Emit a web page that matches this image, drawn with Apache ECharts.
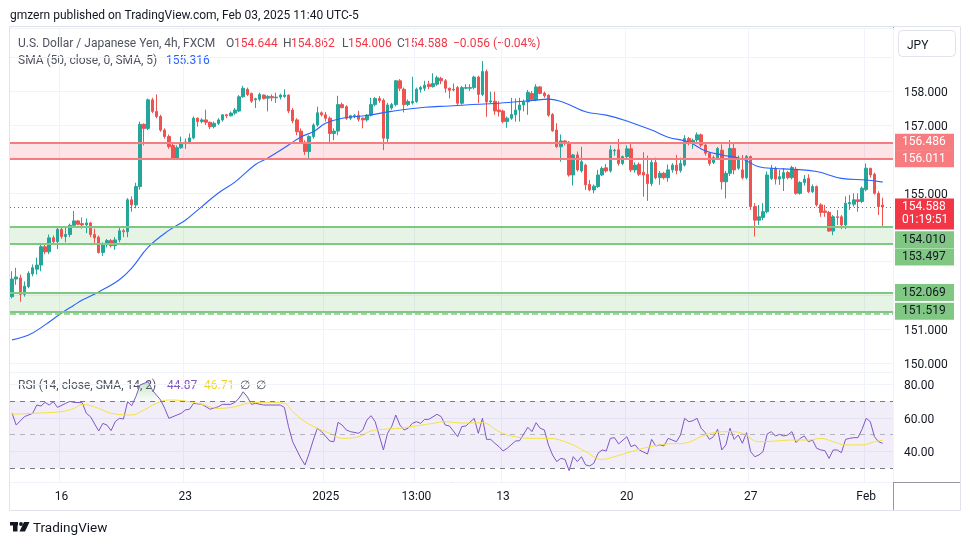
<!DOCTYPE html>
<html>
<head>
<meta charset="utf-8">
<script src="https://cdn.jsdelivr.net/npm/echarts@6/dist/echarts.min.js"></script>
<style>
  html, body { margin: 0; padding: 0; background: #fff; }
  #chart { width: 970px; height: 545px; }
</style>
</head>
<body>
<div id="chart"></div>
<script>
// USDJPY 4h candles (oldest first)
const opens = [
  151.95,152.47,152.5,152.02,152.25,152.62,152.76,152.88,153.42,153.27,
  153.68,153.57,153.93,153.72,153.78,154.05,154.18,154.1,154.06,154.12,
  153.78,153.7,153.25,153.48,153.6,153.45,153.62,153.89,153.86,154.8,
  154.65,155.19,157.02,156.9,157.74,157.4,157.25,156.85,156.66,156.4,
  156.0,156.33,156.45,156.5,156.62,157.2,157.1,157.15,157.08,156.95,
  157.05,157.15,157.3,157.27,157.35,157.41,157.83,158.05,157.93,157.74,
  157.76,157.88,157.79,157.84,157.8,157.82,157.84,157.88,157.44,157.15,
  156.82,156.49,156.22,156.66,157.0,157.36,157.3,157.2,156.75,156.82,
  157.6,157.54,157.2,157.25,157.28,157.2,157.15,157.29,157.6,157.78,
  157.73,156.6,157.5,157.6,158.3,158.05,157.6,157.65,157.69,158.05,
  158.08,158.2,158.13,158.2,158.37,158.3,158.08,158.03,158.1,157.64,
  158.08,158.08,158.1,158.41,157.9,158.57,157.68,157.7,157.44,157.41,
  157.1,157.2,157.3,157.44,157.59,157.68,157.93,157.74,158.12,157.94,
  157.88,157.31,156.85,156.36,156.53,156.49,155.53,156.12,155.65,155.82,
  155.25,155.09,155.19,155.53,155.74,155.65,156.24,156.27,155.87,156.07,
  156.3,155.68,155.84,155.61,155.55,155.28,155.9,155.45,155.58,155.45,
  155.68,155.82,155.66,155.82,156.6,156.46,156.56,156.71,156.41,156.17,
  155.9,156.04,156.26,155.33,155.58,156.31,155.73,155.68,155.45,156.07,
  154.6,154.2,154.28,154.45,155.43,155.73,155.41,155.43,155.6,155.45,
  155.7,154.99,155.31,155.43,155.04,155.19,154.65,154.47,154.43,153.88,
  154.3,154.3,154.06,154.68,154.67,154.8,154.75,155.1,155.73,155.55,
  154.99,154.644
];
const closes = [
  152.47,152.53,152.02,152.26,152.64,152.8,152.88,153.42,153.27,153.68,
  153.57,153.93,153.72,153.78,154.05,154.18,154.08,154.06,154.12,153.78,
  153.68,153.25,153.48,153.6,153.45,153.62,153.89,153.86,154.8,154.65,
  155.19,157.02,156.9,157.74,157.4,157.25,156.85,156.66,156.36,156.0,
  156.33,156.45,156.5,156.62,157.2,157.1,157.15,157.08,156.95,157.05,
  157.15,157.3,157.27,157.35,157.44,157.83,158.08,157.9,157.7,157.77,
  157.9,157.78,157.84,157.8,157.82,157.88,157.88,157.41,157.12,156.8,
  156.49,156.22,156.66,157.0,157.36,157.3,157.2,156.75,156.82,157.6,
  157.51,157.2,157.27,157.28,157.17,157.15,157.29,157.6,157.78,157.72,
  156.61,157.59,157.6,158.3,158.08,157.6,157.69,157.69,158.05,158.1,
  158.17,158.13,158.22,158.39,158.3,158.08,158.02,158.05,157.64,158.1,
  158.1,158.1,158.41,157.9,158.57,157.68,157.71,157.41,157.39,157.1,
  157.2,157.31,157.44,157.59,157.68,157.96,157.74,158.12,157.93,157.86,
  157.29,156.83,156.36,156.53,156.46,155.53,156.12,155.68,155.92,155.24,
  155.09,155.2,155.53,155.72,155.65,156.27,156.26,155.87,156.07,156.3,
  155.68,155.82,155.55,155.53,155.28,155.9,155.45,155.58,155.45,155.68,
  155.82,155.66,155.87,156.6,156.46,156.55,156.71,156.41,156.17,155.87,
  156.04,156.31,155.33,155.58,156.31,155.68,155.97,155.45,156.07,154.6,
  154.2,154.3,154.45,155.53,155.73,155.41,155.48,155.6,155.45,155.75,
  154.99,155.31,155.41,155.04,155.19,154.65,154.43,154.43,153.88,154.3,
  154.28,154.06,154.7,154.72,154.8,154.75,155.14,155.73,155.53,154.99,
  154.6,154.588
];
const lows = [
  151.9,152.3,151.8,151.95,152.2,152.55,152.6,152.7,153.2,153.2,
  153.5,153.35,153.65,153.55,153.7,154.0,154.05,153.95,153.82,153.7,
  153.53,153.22,153.15,153.4,153.4,153.33,153.55,153.7,153.7,154.45,
  154.55,155.1,156.4,156.85,157.35,157.2,156.8,156.6,156.3,155.97,
  155.98,156.3,156.3,156.45,156.58,156.95,157.05,157.0,156.88,156.9,
  157.0,157.1,157.2,157.25,157.3,157.38,157.8,157.85,157.65,157.5,
  157.7,157.75,157.4,157.7,157.65,157.75,157.8,157.35,157.05,156.7,
  156.45,156.12,156.02,156.6,156.95,157.25,157.1,156.45,156.55,156.7,
  157.49,157.15,157.15,157.2,157.1,156.9,157.1,157.25,157.55,157.65,
  156.26,156.49,157.45,157.55,158.0,157.37,157.55,157.6,157.65,157.95,
  158.0,158.05,158.1,158.15,158.2,157.95,157.78,157.99,157.59,157.6,
  158.05,158.0,158.05,157.64,157.85,157.24,157.64,157.3,157.25,157.05,
  156.92,157.15,157.1,157.1,157.4,157.3,157.7,157.7,157.9,157.8,
  157.24,156.8,156.33,155.92,156.4,155.48,155.22,155.63,155.6,155.09,
  155.05,154.99,155.15,155.5,155.6,155.6,156.1,155.8,155.82,156.0,
  155.62,155.6,155.5,154.89,154.77,155.2,155.4,155.24,155.4,155.33,
  155.6,155.55,155.6,155.78,156.4,156.3,156.5,156.35,156.1,155.8,
  155.85,156.0,155.1,154.84,155.5,155.55,155.68,155.4,155.4,154.5,
  153.72,154.06,154.2,154.4,155.38,155.25,155.24,155.06,155.4,155.4,
  154.95,154.95,155.22,155.0,155.0,154.6,154.3,154.3,153.86,153.76,
  154.06,153.94,153.94,154.5,154.6,154.45,154.7,155.05,155.45,154.95,
  154.35,154.006
];
const highs = [
  152.7,152.8,152.6,152.4,152.7,152.9,153.1,153.5,153.5,153.78,
  153.75,154.0,154.0,154.02,154.1,154.47,154.2,154.28,154.25,154.15,
  153.95,153.75,153.55,153.65,153.65,153.7,154.0,153.95,154.85,154.9,
  155.3,157.1,157.05,157.78,157.8,157.9,157.3,156.9,156.72,156.45,
  156.4,156.66,156.6,156.75,157.25,157.22,157.2,157.45,157.1,157.1,
  157.2,157.32,157.33,157.4,157.5,157.88,158.15,158.1,157.95,157.8,
  157.95,157.9,157.88,157.9,157.95,157.92,158.05,157.9,157.5,157.2,
  156.9,156.55,156.7,157.05,157.54,157.4,157.38,157.25,156.9,157.86,
  157.66,157.58,157.3,157.32,157.42,157.22,157.32,157.8,157.82,157.85,
  157.78,157.65,157.65,158.32,158.35,158.1,157.75,158.42,158.1,158.15,
  158.3,158.3,158.52,158.45,158.42,158.35,158.1,158.22,158.15,158.15,
  158.2,158.2,158.45,158.45,158.88,158.63,157.98,157.98,157.7,157.45,
  157.25,157.8,157.78,157.8,157.75,158.03,158.0,158.2,158.15,157.98,
  157.9,157.35,157.05,156.72,156.56,156.53,156.15,156.22,156.36,155.86,
  155.38,155.25,155.68,155.78,155.85,156.4,156.3,156.59,156.1,156.4,
  156.49,155.9,155.9,156.2,156.1,156.0,156.04,155.65,155.62,155.84,
  155.88,156.12,156.04,156.7,156.65,156.6,156.78,156.75,156.45,156.2,
  156.1,156.35,156.43,155.65,156.56,156.46,156.1,156.12,156.12,156.1,
  154.7,154.65,154.7,155.63,155.82,155.78,155.68,155.73,155.65,155.8,
  155.77,155.35,155.53,155.55,155.25,155.22,154.7,154.65,154.47,154.35,
  154.5,154.35,154.9,154.94,154.99,154.99,155.19,155.87,155.73,155.6,
  155.05,154.862
];

// SMA(50) overlay, read at [candle index, value]
const smaPoints = [
  [0,150.68],[4,150.82],[8,151.12],[12,151.47],[15,151.7],[17,151.85],[21,152.09],
  [26,152.45],[29,152.79],[33,153.41],[38,153.9],[42,154.2],[46,154.6],[50,155.0],
  [54,155.32],[59,155.84],[62,156.03],[67,156.41],[70,156.65],[73,156.8],[76,157.05],
  [80,157.2],[86,157.28],[92,157.4],[100,157.52],[106,157.56],[110,157.59],[118,157.64],
  [126,157.72],[130,157.76],[134,157.65],[139,157.39],[144,157.29],[149,157.12],
  [155,156.85],[159,156.64],[164,156.5],[168,156.24],[172,156.12],[177,156.0],
  [181,155.77],[185,155.72],[189,155.7],[195,155.63],[201,155.43],[207,155.38],[211,155.32]
];

// RSI(14) and its SMA(14), read at [candle index, value]
const rsiPoints = [
  [0,62.7],[1,55.7],[3,60.7],[5,62.7],[6,67.6],[7,67.0],[8,69.2],[9,67.6],[10,69.6],[11,66.2],
  [13,68.6],[14,69.8],[15,69.2],[17,69.0],[18,62.7],[19,60.7],[21,52.2],[22,56.7],[23,55.7],
  [24,52.4],[25,57.7],[26,59.7],[27,59.3],[28,69.6],[29,67.2],[30,72.6],[31,79.5],[33,81.5],
  [34,76.5],[36,70.6],[37,65.6],[38,59.7],[40,61.7],[41,62.7],[42,64.7],[43,65.1],[44,68.6],
  [46,68.0],[47,66.6],[48,65.1],[50,66.6],[51,68.0],[53,68.0],[54,69.2],[55,71.6],[56,75.5],
  [57,72.6],[58,68.0],[59,68.6],[61,67.6],[63,67.6],[65,67.6],[66,66.2],[67,54.8],[68,45.8],
  [70,35.9],[71,32.0],[72,38.9],[73,46.8],[74,53.8],[75,51.8],[77,46.2],[78,45.8],[79,57.3],
  [80,55.7],[81,52.8],[82,51.8],[84,50.8],[85,52.8],[86,58.7],[87,61.3],[88,57.7],[90,40.9],
  [91,50.8],[92,54.8],[93,61.7],[94,55.7],[95,52.8],[96,53.8],[97,56.7],[98,57.7],[99,56.7],
  [100,59.1],[101,59.1],[103,62.1],[104,60.7],[105,55.7],[106,55.2],[108,48.8],[109,54.8],
  [110,55.2],[112,59.7],[113,50.8],[114,59.7],[115,47.2],[116,47.2],[117,44.9],[118,42.9],
  [119,40.3],[120,41.9],[122,46.2],[123,46.4],[125,54.4],[126,51.8],[127,57.1],[128,53.8],
  [129,52.8],[130,43.9],[131,37.9],[132,34.0],[133,35.9],[134,35.3],[135,28.6],[136,36.9],
  [137,34.0],[138,36.9],[139,32.0],[140,31.4],[141,33.0],[142,38.9],[143,40.9],[144,40.3],
  [145,47.8],[146,48.2],[147,44.5],[149,48.8],[150,42.9],[151,43.9],[152,40.9],[154,38.5],
  [155,47.2],[156,43.3],[157,43.9],[158,43.3],[159,47.8],[161,45.8],[162,49.8],[163,59.7],
  [164,57.7],[165,58.3],[166,59.7],[167,53.8],[168,51.2],[169,47.2],[170,48.8],[171,53.2],
  [172,40.9],[173,43.9],[174,53.8],[175,47.2],[176,49.8],[177,44.9],[178,51.2],[179,39.9],
  [180,36.9],[181,37.9],[182,39.9],[183,50.4],[184,51.8],[185,49.2],[186,50.2],[187,49.2],
  [188,49.8],[189,51.8],[190,45.3],[191,47.8],[192,49.2],[193,45.8],[194,46.8],[195,41.9],
  [196,40.9],[197,40.5],[198,35.9],[199,40.9],[200,40.9],[201,39.3],[202,47.2],[203,47.8],
  [204,48.2],[205,48.2],[206,53.2],[207,59.7],[208,57.7],[209,48.8],[210,45.8],[211,44.87]
];
const rsiMaPoints = [
  [0,62.1],[5,62.7],[12,63.7],[15,65.6],[17,68.0],[21,65.6],[24,62.7],[29,61.7],[32,64.7],
  [35,68.6],[38,70.6],[42,70.0],[46,68.0],[50,65.6],[54,66.6],[58,69.0],[62,69.2],[66,68.6],
  [68,63.7],[71,57.7],[74,53.8],[77,50.8],[80,47.8],[84,48.8],[87,52.2],[90,53.2],[94,53.8],
  [98,55.2],[102,56.7],[105,57.7],[109,56.9],[114,57.1],[118,51.8],[121,49.2],[126,47.8],
  [130,47.8],[135,44.9],[139,39.9],[143,35.3],[146,36.9],[150,39.9],[154,42.5],[159,44.5],
  [163,44.9],[167,48.8],[170,51.2],[174,51.8],[177,50.8],[181,45.8],[185,46.2],[189,46.8],
  [193,46.8],[196,47.8],[199,45.8],[202,43.9],[206,43.9],[209,45.8],[211,46.71]
];

// time axis ticks (candle index -> label)
const tickIdx = [12, 42, 76, 98, 119, 149, 179, 207];
const tickText = ['16', '23', '2025', '13:00', '13', '20', '27', 'Feb'];
const priceLabelsShown = [150, 151, 155, 157, 158];

// drawn zones / levels
const redZone = [156.011, 156.486];
const greenZones = [[153.497, 154.010], [151.519, 152.069]];
const extraGreenLine = 151.46;
const lastPrice = 154.588;
const countdown = '01:19:51';

const FONT = 'Roboto, "Noto Sans", sans-serif';
const UP = '#26A69A', DOWN = '#EF5350';
const GRID_LINE = '#F0F3FA';
const TXT = '#131722', GREY = '#50535E';
const N_CAT = 214;

const cats = Array.from({ length: N_CAT }, (_, i) => {
  const k = tickIdx.indexOf(i);
  return k >= 0 ? tickText[k] : '';
});
const isTick = (i) => tickIdx.indexOf(i) >= 0;

const candles = opens.map((o, i) => [o, closes[i], lows[i], highs[i]]);

function box(txt, bg, fg, dy) {
  return {
    show: true, position: 'end', distance: 2, formatter: txt,
    backgroundColor: bg, color: fg, fontSize: 12, fontFamily: FONT,
    padding: [3, 7, 1, 7], lineHeight: 13, width: 45, align: 'left',
    offset: [0, dy || 0]
  };
}
const redLine = { color: '#F77C80', width: 2, type: 'solid' };
const greenLine = { color: '#81C784', width: 2, type: 'solid' };

const levelLines = [
  {
    yAxis: lastPrice,
    lineStyle: { color: '#F23645', width: 1, type: [1, 3] },
    label: Object.assign(box(lastPrice.toFixed(3) + '\n' + countdown, '#F23645', '#fff', 7),
      { lineHeight: 13, padding: [3, 7, 2, 7] })
  },
  { yAxis: redZone[1], lineStyle: redLine, label: box(redZone[1].toFixed(3), '#F77C80', '#fff') },
  { yAxis: redZone[0], lineStyle: redLine, label: box(redZone[0].toFixed(3), '#F77C80', '#fff') },
  // upper green pair labels are pushed below the last-price tag, as on the snapshot
  { yAxis: greenZones[0][1], lineStyle: greenLine, label: box(greenZones[0][1].toFixed(3), '#81C784', TXT, 13) },
  { yAxis: greenZones[0][0], lineStyle: greenLine, label: box(greenZones[0][0].toFixed(3), '#81C784', TXT, 13) },
  { yAxis: greenZones[1][1], lineStyle: greenLine, label: box(greenZones[1][1].toFixed(3), '#81C784', TXT) },
  { yAxis: greenZones[1][0], lineStyle: greenLine, label: box(greenZones[1][0].toFixed(3), '#81C784', TXT) },
  { yAxis: extraGreenLine, lineStyle: { color: '#81C784', width: 1.5 }, label: { show: false } }
];

const zoneAreas = [[{ yAxis: redZone[0], itemStyle: { color: 'rgba(242,54,69,0.13)' } }, { yAxis: redZone[1] }]]
  .concat(greenZones.map(z => [{ yAxis: z[0], itemStyle: { color: 'rgba(76,175,80,0.14)' } }, { yAxis: z[1] }]));

function txt(x, y, s, color, size, align) {
  return {
    type: 'text', x: x, y: y + 1.5, silent: true,
    style: { text: s, fill: color, font: (size || 12) + 'px ' + FONT, align: align || 'left', verticalAlign: 'middle' }
  };
}

const axisRich = { p: { padding: [4, 0, 0, 0], fontSize: 12, color: TXT } };

const chart = echarts.init(document.getElementById('chart'));
chart.setOption({
  animation: false,
  textStyle: { fontFamily: FONT },
  grid: [
    { left: 10, right: 77, top: 28, height: 344 },
    { left: 10, right: 77, top: 372, height: 110 }
  ],
  xAxis: [
    {
      type: 'category', gridIndex: 0, data: cats, boundaryGap: true,
      axisLine: { show: false }, axisTick: { show: false }, axisLabel: { show: false },
      splitLine: { show: true, interval: (i) => isTick(i), lineStyle: { color: GRID_LINE } }
    },
    {
      type: 'category', gridIndex: 1, data: cats, boundaryGap: true,
      axisLine: { show: false }, axisTick: { show: false },
      axisLabel: { show: true, interval: (i) => isTick(i), color: TXT, fontSize: 12, margin: 9, hideOverlap: false },
      splitLine: { show: true, interval: (i) => isTick(i), lineStyle: { color: GRID_LINE } }
    }
  ],
  yAxis: [
    {
      type: 'value', gridIndex: 0, position: 'right', scale: true,
      min: 149.735, max: 159.853, minInterval: 1, maxInterval: 1,
      axisLine: { show: false }, axisTick: { show: false },
      splitLine: { lineStyle: { color: GRID_LINE } },
      axisLabel: {
        color: TXT, fontSize: 12, margin: 11, showMinLabel: false, showMaxLabel: false,
        rich: axisRich,
        formatter: (v) => priceLabelsShown.indexOf(Math.round(v * 1000) / 1000) >= 0 ? '{p|' + v.toFixed(3) + '}' : ''
      }
    },
    {
      type: 'value', gridIndex: 1, position: 'right',
      min: 21.86, max: 87.24, minInterval: 20, maxInterval: 20,
      axisLine: { show: false }, axisTick: { show: false },
      splitLine: { lineStyle: { color: GRID_LINE } },
      axisLabel: { color: TXT, fontSize: 12, margin: 11, showMinLabel: false, showMaxLabel: false,
        rich: axisRich, formatter: (v) => '{p|' + v.toFixed(2) + '}' }
    }
  ],
  series: [
    {
      name: 'levels', type: 'line', xAxisIndex: 0, yAxisIndex: 0, data: [], z: 1, silent: true,
      markArea: { silent: true, data: zoneAreas },
      markLine: { silent: true, symbol: 'none', data: levelLines }
    },
    {
      name: 'USDJPY', type: 'candlestick', xAxisIndex: 0, yAxisIndex: 0, z: 3,
      data: candles, barWidth: 3,
      itemStyle: { color: UP, color0: DOWN, borderColor: UP, borderColor0: DOWN, borderWidth: 1 }
    },
    {
      name: 'SMA', type: 'line', xAxisIndex: 0, yAxisIndex: 0, z: 4,
      data: smaPoints, smooth: 0.4, showSymbol: false, symbol: 'none',
      lineStyle: { color: '#2962FF', width: 1.1 }
    },
    {
      name: 'RSI-OB', type: 'line', xAxisIndex: 1, yAxisIndex: 1, z: 2,
      data: rsiPoints.map(p => [p[0], Math.max(p[1], 70)]), symbol: 'none',
      lineStyle: { width: 0 },
      areaStyle: {
        origin: 70,
        color: new echarts.graphic.LinearGradient(0, 0, 0, 1, [
          { offset: 0, color: 'rgba(76,175,80,0.45)' }, { offset: 1, color: 'rgba(76,175,80,0.05)' }
        ])
      }
    },
    {
      name: 'RSI', type: 'line', xAxisIndex: 1, yAxisIndex: 1, z: 3,
      data: rsiPoints, symbol: 'none', lineStyle: { color: '#7E57C2', width: 1 },
      markArea: { silent: true, data: [[{ yAxis: 30, itemStyle: { color: 'rgba(126,87,194,0.1)' } }, { yAxis: 70 }]] },
      markLine: {
        silent: true, symbol: 'none', label: { show: false },
        data: [
          { yAxis: 70, lineStyle: { color: '#787B86', type: [5, 5], width: 1 } },
          { yAxis: 50, lineStyle: { color: 'rgba(120,123,134,0.5)', type: [5, 5], width: 1 } },
          { yAxis: 30, lineStyle: { color: '#787B86', type: [5, 5], width: 1 } }
        ]
      }
    },
    {
      name: 'RSI MA', type: 'line', xAxisIndex: 1, yAxisIndex: 1, z: 3,
      data: rsiMaPoints, smooth: 0.4, symbol: 'none', lineStyle: { color: '#F5E13C', width: 1 }
    }
  ],
  graphic: [
    { type: 'rect', silent: true, shape: { x: 9.5, y: 26.5, width: 951, height: 484 }, style: { fill: 'none', stroke: '#E0E3EB', lineWidth: 1 } },
    { type: 'line', silent: true, shape: { x1: 893.5, y1: 27, x2: 893.5, y2: 510 }, style: { stroke: '#9598A1', lineWidth: 1 } },
    { type: 'line', silent: true, shape: { x1: 10, y1: 482.5, x2: 960, y2: 482.5 }, style: { stroke: '#9598A1', lineWidth: 1 } },
    { type: 'rect', silent: true, shape: { x: 898.5, y: 30.5, width: 57, height: 26, r: 4 }, style: { fill: '#fff', stroke: '#E0E3EB', lineWidth: 1 } },
    txt(907, 44, 'JPY', TXT, 12),
    txt(10, 14, 'gmzern published on TradingView.com, Feb 03, 2025 11:40 UTC-5', TXT, 12),
    txt(18, 42, 'U.S. Dollar / Japanese Yen, 4h, FXCM', GREY, 12),
    txt(226, 42, 'O', GREY, 12), txt(234, 42, opens[opens.length - 1].toFixed(3), '#F23645', 12),
    txt(283, 42, 'H', GREY, 12), txt(291, 42, highs[highs.length - 1].toFixed(3), '#F23645', 12),
    txt(342, 42, 'L', GREY, 12), txt(348, 42, lows[lows.length - 1].toFixed(3), '#F23645', 12),
    txt(397, 42, 'C', GREY, 12), txt(404, 42, closes[closes.length - 1].toFixed(3), '#F23645', 12),
    txt(453, 42, '\u22120.056 (\u22120.04%)', '#F23645', 12),
    txt(18, 59, 'SMA (50, close, 0, SMA, 5)', GREY, 12),
    txt(166, 59, '155.316', '#2962FF', 12),
    txt(18, 384, 'RSI (14, close, SMA, 14, 2)', GREY, 12),
    txt(167, 384, '44.87', '#7E57C2', 12),
    txt(204, 384, '46.71', '#F0D62A', 12),
    txt(240, 384, '\u2205', GREY, 12),
    txt(256, 384, '\u2205', GREY, 12),
    // TradingView mark
    { type: 'rect', silent: true, shape: { x: 10, y: 522, width: 8, height: 3.5 }, style: { fill: '#131722' } },
    { type: 'rect', silent: true, shape: { x: 13, y: 522, width: 4.5, height: 9.5 }, style: { fill: '#131722' } },
    { type: 'circle', silent: true, shape: { cx: 21, cy: 524, r: 1.9 }, style: { fill: '#131722' } },
    { type: 'polygon', silent: true, shape: { points: [[19.5, 531.5], [24, 522], [29.5, 522], [25, 531.5]] }, style: { fill: '#131722' } },
    txt(33, 527, 'TradingView', TXT, 13.5)
  ]
});
</script>
</body>
</html>
